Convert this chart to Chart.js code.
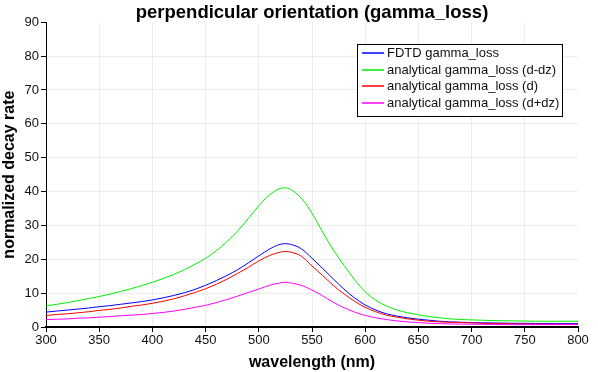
<!DOCTYPE html>
<html lang="en">
<head>
<meta charset="UTF-8">
<title>perpendicular orientation (gamma_loss)</title>
<style>
    html, body {
        margin: 0;
        padding: 0;
        background: #fff;
    }
    #wrap {
        width: 598px;
        height: 372px;
    }
</style>
<script src="https://cdn.jsdelivr.net/npm/chart.js"></script>
</head>
<body>
<div id="wrap"><canvas id="decayChart" width="598" height="372"></canvas></div>

<script>
// wavelength samples (nm)
var wavelengths = [300, 310, 320, 330, 340, 350, 360, 370, 380, 390, 400, 410, 420, 430, 440, 450,
    460, 470, 480, 490, 500, 510, 520, 525, 530, 540, 550, 560, 570, 580, 590, 600, 610, 620,
    630, 640, 650, 660, 670, 680, 690, 700, 720, 740, 760, 780, 800];

var fdtdLoss = [4.4, 4.7, 5.0, 5.3, 5.6, 6.0, 6.3, 6.7, 7.1, 7.5, 8.0, 8.6, 9.3, 10.1, 11.1, 12.3,
    13.7, 15.2, 16.9, 18.9, 21.0, 23.0, 24.4, 24.6, 24.4, 23.1, 20.3, 17.3, 14.2, 11.2, 8.6, 6.5, 5.0, 3.9,
    3.2, 2.7, 2.3, 2.0, 1.7, 1.5, 1.4, 1.3, 1.2, 1.1, 1.05, 1.0, 1.0];
var analyticMinus = [6.2, 6.7, 7.2, 7.8, 8.4, 9.0, 9.7, 10.5, 11.3, 12.2, 13.2, 14.3, 15.5, 16.9, 18.5, 20.3,
    22.5, 25.2, 28.3, 32.0, 35.8, 39.0, 40.9, 41.1, 40.6, 38.0, 33.6, 28.0, 22.8, 18.2, 14.0, 10.4, 7.9, 6.2,
    5.0, 4.2, 3.6, 3.1, 2.7, 2.4, 2.2, 2.1, 1.9, 1.8, 1.7, 1.7, 1.7];
var analyticMid = [3.4, 3.7, 3.9, 4.2, 4.5, 4.9, 5.2, 5.6, 6.1, 6.5, 7.0, 7.6, 8.3, 9.2, 10.2, 11.3,
    12.6, 14.1, 15.8, 17.6, 19.5, 21.1, 22.1, 22.3, 22.1, 20.9, 18.0, 15.2, 12.3, 9.8, 7.6, 5.8, 4.5, 3.5,
    2.9, 2.4, 2.0, 1.7, 1.5, 1.4, 1.3, 1.2, 1.0, 0.9, 0.85, 0.8, 0.8];
var analyticPlus = [2.2, 2.3, 2.4, 2.6, 2.7, 2.9, 3.1, 3.3, 3.5, 3.7, 4.0, 4.3, 4.7, 5.2, 5.8, 6.4,
    7.2, 8.1, 9.1, 10.2, 11.2, 12.3, 13.0, 13.2, 13.0, 12.3, 10.9, 9.2, 7.3, 5.7, 4.4, 3.4, 2.7, 2.2,
    1.8, 1.5, 1.3, 1.1, 1.0, 0.9, 0.85, 0.8, 0.75, 0.7, 0.7, 0.7, 0.7];

var seriesLabels = ['FDTD gamma_loss', 'analytical gamma_loss (d-dz)',
    'analytical gamma_loss (d)', 'analytical gamma_loss (d+dz)'];
var seriesColors = ['#0000ff', '#00ee00', '#ff0000', '#ff00ff'];
var seriesValues = [fdtdLoss, analyticMinus, analyticMid, analyticPlus];

var xTicks = [300, 350, 400, 450, 500, 550, 600, 650, 700, 750, 800];
var yTicks = [0, 10, 20, 30, 40, 50, 60, 70, 80, 90];

var fontFamily = '"Liberation Sans", Arial, sans-serif';

function toPoints(values) {
    return values.map(function(v, i) {
        return { x: wavelengths[i], y: v };
    });
}

// order drawn: green first, then blue, red, magenta on top
var drawOrder = [1, 0, 2, 3];
var datasets = seriesValues.map(function(values, i) {
    return {
        label: seriesLabels[i],
        data: toPoints(values),
        borderColor: seriesColors[i],
        borderWidth: 1,
        pointRadius: 0,
        fill: false,
        cubicInterpolationMode: 'monotone',
        order: drawOrder.indexOf(i) * -1
    };
});

// boxed legend inside the plot, top right
var boxLegend = {
    id: 'boxLegend',
    afterDraw: function(chart) {
        var ctx = chart.ctx;
        var area = chart.chartArea;
        var left = Math.round(area.right - 221);
        var top = Math.round(area.top + 22);
        var w = 205, h = 72;
        ctx.save();
        ctx.fillStyle = '#fff';
        ctx.fillRect(left, top, w, h);
        ctx.strokeStyle = '#000';
        ctx.lineWidth = 1;
        ctx.strokeRect(left + 0.5, top + 0.5, w, h);
        ctx.font = '13px ' + fontFamily;
        ctx.textBaseline = 'middle';
        chart.data.datasets.forEach(function(ds, i) {
            var y = Math.round(top + 9 + i * 16.7);
            ctx.strokeStyle = ds.borderColor;
            ctx.lineWidth = 1.5;
            ctx.beginPath();
            ctx.moveTo(left + 5, y);
            ctx.lineTo(left + 27, y);
            ctx.stroke();
            ctx.fillStyle = '#111';
            ctx.fillText(ds.label, left + 30, y + 0.5);
        });
        ctx.restore();
    }
};

function gridColor(max) {
    return function(c) {
        if (c.tick && c.tick.value === max) return 'rgba(0,0,0,0)';
        return '#ececec';
    };
}

var ctx = document.getElementById('decayChart').getContext('2d');
new Chart(ctx, {
    type: 'line',
    data: { datasets: datasets },
    options: {
        responsive: false,
        animation: false,
        layout: { padding: { right: 20, top: 0, left: 0, bottom: 0 } },
        plugins: {
            legend: { display: false },
            tooltip: { enabled: false },
            title: {
                display: true,
                fullSize: false,
                text: 'perpendicular orientation (gamma_loss)',
                color: '#000',
                font: { family: fontFamily, size: 18.5, weight: 'bold' },
                padding: { top: 2, bottom: -2 }
            }
        },
        scales: {
            x: {
                type: 'linear',
                min: 300,
                max: 800,
                afterBuildTicks: function(s) {
                    s.ticks = xTicks.map(function(v) { return { value: v }; });
                },
                afterFit: function(s) { s.height = 45; },
                grid: { color: gridColor(800), tickColor: '#000', tickLength: 5 },
                border: { color: '#000', width: 2 },
                ticks: {
                    color: '#111',
                    padding: 1,
                    maxRotation: 0,
                    font: { family: fontFamily, size: 13 }
                },
                title: {
                    display: true,
                    text: 'wavelength (nm)',
                    color: '#000',
                    padding: { top: 0, bottom: 0 },
                    font: { family: fontFamily, size: 16, weight: 'bold' }
                }
            },
            y: {
                min: 0,
                max: 90,
                afterBuildTicks: function(s) {
                    s.ticks = yTicks.map(function(v) { return { value: v }; });
                },
                afterFit: function(s) { s.width = 46; },
                grid: { color: gridColor(90), tickColor: '#000', tickLength: 5 },
                border: { color: '#000', width: 1 },
                ticks: {
                    color: '#111',
                    padding: 2,
                    font: { family: fontFamily, size: 13 }
                },
                title: {
                    display: true,
                    text: 'normalized decay rate',
                    color: '#000',
                    padding: { top: 0, bottom: 0 },
                    font: { family: fontFamily, size: 16, weight: 'bold' }
                }
            }
        }
    },
    plugins: [boxLegend]
});
</script>
</body>
</html>
